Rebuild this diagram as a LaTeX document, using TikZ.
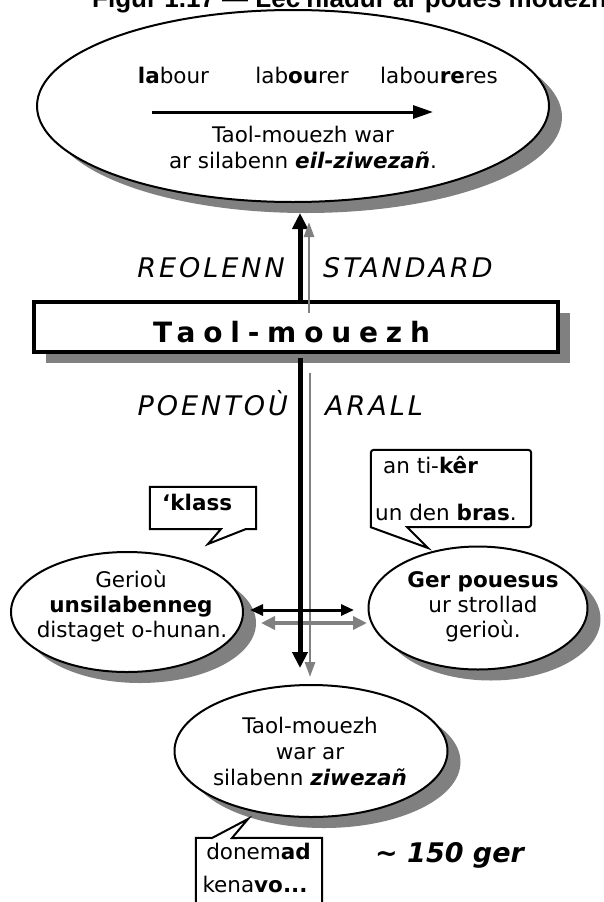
\documentclass[tikz,border=0pt]{standalone}
\usepackage{fontspec}
\setmainfont{DejaVu Sans}
\newfontfamily\titlefont{Liberation Sans}
\usetikzlibrary{arrows.meta,shapes.geometric,shadows,calc}
\definecolor{sgray}{HTML}{808080}
\newcommand\bodyfs{\fontsize{21.5}{26}\selectfont}
\tikzset{
  ell/.style={ellipse, draw=black, line width=2pt, fill=white, inner sep=0pt,
     drop shadow={shadow xshift=13pt, shadow yshift=-11pt, fill=sgray, opacity=1}},
  mainbox/.style={rectangle, draw=black, line width=3.5pt, fill=white, inner sep=0pt,
     drop shadow={shadow xshift=12pt, shadow yshift=-11pt, fill=sgray, opacity=1}},
  tx/.style={inner sep=0pt, anchor=base, font=\bodyfs},
  txl/.style={inner sep=0pt, anchor=base west, font=\bodyfs},
  lab/.style={inner sep=0pt, font=\itshape\fontsize{27}{30}\selectfont\addfontfeature{LetterSpace=11}},
  calnode/.style={rectangle, draw=none, fill=none, inner sep=0pt},
  calline/.style={draw=black, line width=2pt, fill=white, line join=miter},
  blk/.style={draw=black, line width=5pt, -{Triangle[length=16pt,width=15pt]}},
  gry/.style={draw=sgray, line width=2.7pt, -{Triangle[length=15pt,width=10pt]}},
  hblk/.style={draw=black, line width=3pt, -{Triangle[length=20pt,width=13pt]}},
  dblk/.style={draw=black, line width=3pt, {Triangle[length=13pt,width=11pt]}-{Triangle[length=13pt,width=11pt]}},
  dgry/.style={draw=sgray, line width=4pt, {Triangle[length=14pt,width=13pt]}-{Triangle[length=14pt,width=13pt]}},
}
\begin{document}
\begin{tikzpicture}[x=1pt,y=-1pt]
\useasboundingbox (0,0) rectangle (603,902);
\clip (0,0) rectangle (603,902);

% title (clipped at top)
\node[inner sep=0pt, anchor=base west, font=\titlefont\bfseries\fontsize{26}{30}\selectfont] (title) at (92,7) {Figur 1.17 — Lec'hiadur ar poues mouezh};

% top ellipse
\node[ell, minimum width=512pt, minimum height=192pt] (top) at (293,106) {};
\node[tx] (w1) at (173.5,83) {\textbf{la}bour};
\node[tx] (w2) at (302,83) {lab\textbf{ou}rer};
\node[tx] (w3) at (439,83) {labou\textbf{re}res};
\coordinate (a1) at (152,112);
\coordinate (a2) at (433,112);
\draw[hblk] (a1) -- (a2);
\node[tx] (t1) at (303,142) {Taol-mouezh war};
\node[tx] (t2) at (303,168) {ar silabenn \textbf{\textit{eil-ziwezañ}}.};

% main box
\node[mainbox, minimum width=524pt, minimum height=50pt] (box) at (296,327) {};
\node[inner sep=0pt, anchor=base west, font=\bfseries\fontsize{28}{30}\selectfont\addfontfeature{LetterSpace=28}] (boxt) at (153,342) {Taol-mouezh};

% arrows up
\coordinate (ubt) at (300,213);
\coordinate (ugt) at (309,222);
\coordinate (ugs) at (309,313);
\draw[blk] (box.north -| ubt) -- (ubt);
\draw[gry] (ugs) -- (ugt);

% labels
\node[lab, anchor=base east] (reo) at (285,277) {REOLENN};
\node[lab, anchor=base west] (std) at (323,277) {STANDARD};
\node[lab, anchor=base east] (poe) at (288,415) {POENTOÙ};
\node[lab, anchor=base west] (ara) at (325,415) {ARALL};

% ellipses
\node[ell, minimum width=232pt, minimum height=120pt] (le) at (127,612) {};
\node[tx] (le1) at (131,587) {Gerioù};
\node[tx] (le2) at (131,612) {\textbf{unsilabenneg}};
\node[tx] (le3) at (132,637) {distaget o-hunan.};

\node[ell, minimum width=219pt, minimum height=123pt] (re) at (478,608) {};
\node[tx] (re1) at (483,587) {\textbf{Ger pouesus}};
\node[tx] (re2) at (483,612) {ur strollad};
\node[tx] (re3) at (483,637) {gerioù.};

\node[ell, minimum width=273pt, minimum height=132pt] (be) at (311,751) {};
\node[tx] (be1) at (310,733) {Taol-mouezh};
\node[tx] (be2) at (310,759) {war ar};
\node[tx] (be3) at (310,785) {silabenn \textbf{\textit{ziwezañ}}};

% arrows down and sideways
\coordinate (ds) at (300,358);
\coordinate (dt) at (300,668);
\coordinate (gs) at (310,373);
\coordinate (gt) at (310,677);
\coordinate (g1) at (261,623);
\coordinate (g2) at (367,623);
\coordinate (k1) at (250,610);
\coordinate (k2) at (354,610);
\draw[dgry] (g1) -- (g2);
\draw[gry] (gs) -- (gt);
\draw[dblk] (k1) -- (k2);
\draw[blk] (ds) -- (dt);

% callout 'klass
\node[calnode, minimum width=106pt, minimum height=42pt] (ck) at (203,508) {};
\coordinate (ck1) at (221,529);
\coordinate (ck2) at (246,529);
\coordinate (ckt) at (208,544);
\draw[calline] (ck1) -- (ck.south west) -- (ck.north west) -- (ck.north east) -- (ck.south east) -- (ck2) -- (ckt) -- cycle;
\node[txl] (ckx) at (162,510) {\textbf{‘klass}};

% callout an ti-ker
\node[calnode, minimum width=160pt, minimum height=77pt] (cr) at (451,488.5) {};
\coordinate (cr2) at (407,527);
\coordinate (crt) at (428,548);
\draw[calline] (cr2) [rounded corners=3pt] -- (cr.south east) -- (cr.north east) -- (cr.north west) [sharp corners] -- (cr.south west) -- (crt) -- cycle;
\node[txl] (cr1x) at (383,473) {an ti-\textbf{kêr}};
\node[txl] (cr2x) at (375,520) {un den \textbf{bras}.};

% callout donemad
\node[calnode, minimum width=126pt, minimum height=67pt] (cd) at (259,871.5) {};
\coordinate (cd1) at (212,838);
\coordinate (cd2) at (232,838);
\coordinate (cdt) at (248,819);
\draw[calline] (cd2) -- (cd.north east) -- (cd.south east) -- (cd.south west) -- (cd.north west) -- (cd1) -- (cdt) -- cycle;
\node[tx] (cd1x) at (258.5,859) {donem\textbf{ad}};
\node[tx] (cd2x) at (255,892) {kena\textbf{vo...}};

% ~150 ger
\node[inner sep=0pt, anchor=base west, font=\bfseries\itshape\fontsize{27}{30}\selectfont] (ger) at (375,862) {\textasciitilde\ 150 ger};
\end{tikzpicture}
\end{document}
